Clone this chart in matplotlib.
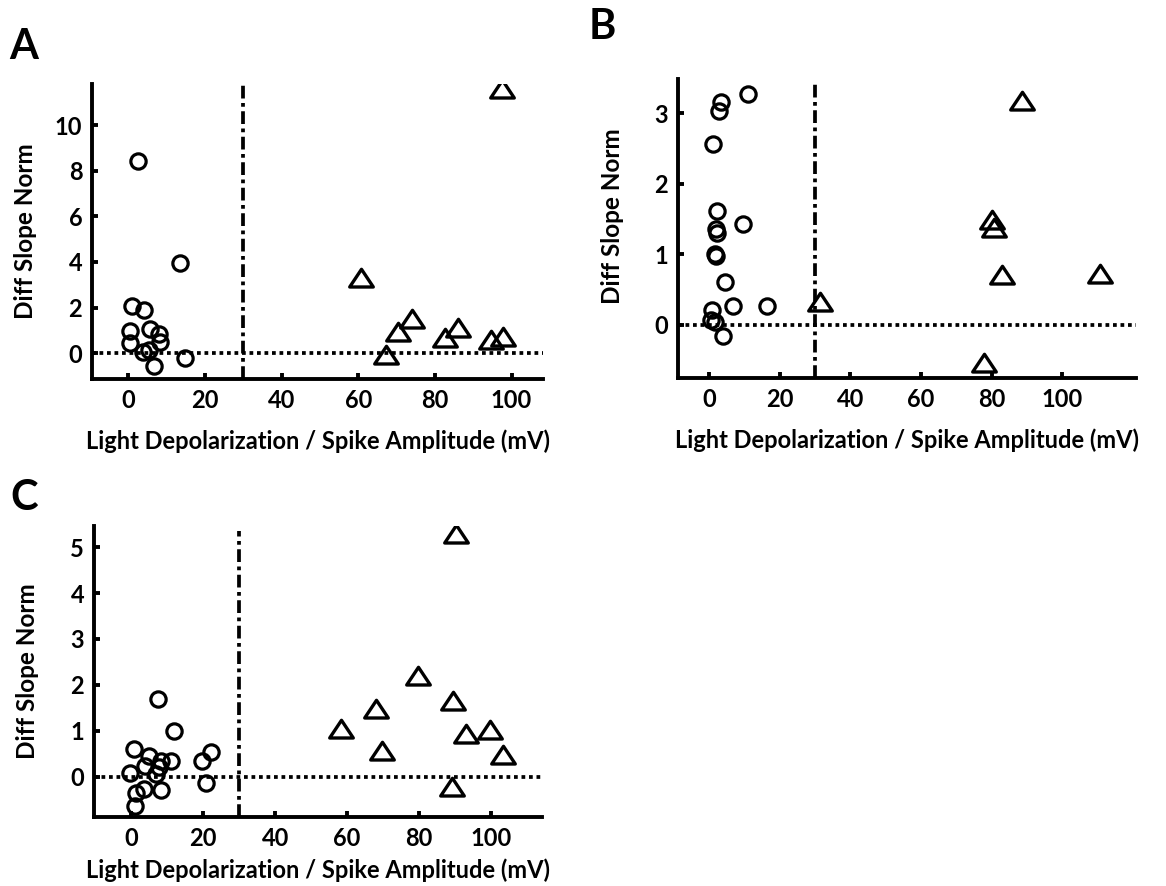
"""Diff slope norm vs light depolarization / spike amplitude, panels A-C."""

import matplotlib

matplotlib.use("Agg")

import matplotlib.pyplot as plt  # noqa: E402
from matplotlib.path import Path  # noqa: E402

plt.rcParams["font.family"] = ["Lato", "DejaVu Sans"]

W, H = 1166, 886

XTICKS = [0, 20, 40, 60, 80, 100]
THRESHOLD = 30
XLABEL = "Light Depolarization / Spike Amplitude (mV)"
YLABEL = "Diff Slope Norm"

# panel A
a_circle_x = [2.6, 13.5, 1.0, 4.2, 0.5, 5.6, 8.0, 8.3, 0.3, 3.8, 5.5, 6.6, 14.7]
a_circle_y = [8.43, 3.95, 2.05, 1.9, 0.97, 1.05, 0.85, 0.5, 0.45, 0.07, 0.15, -0.55, -0.2]
a_tri_x = [97.4, 60.7, 67.3, 70.4, 74.1, 82.6, 86.1, 94.6, 97.8]
a_tri_y = [11.6, 3.29, -0.07, 0.95, 1.49, 0.66, 1.10, 0.59, 0.73]
a_yticks = [0, 2, 4, 6, 8, 10]

# panel B
b_circle_x = [11.0, 3.5, 3.0, 1.2, 2.2, 9.7, 2.0, 2.3, 1.9, 2.1, 4.5, 6.8, 16.5, 1.0, 0.5, 1.8, 4.0]
b_circle_y = [3.28, 3.17, 3.04, 2.56, 1.62, 1.43, 1.36, 1.30, 1.0, 0.98, 0.60, 0.27, 0.26, 0.20, 0.06, 0.04, -0.17]
b_tri_x = [88.6, 80.0, 80.6, 83.0, 110.7, 77.7, 31.4]
b_tri_y = [3.18, 1.49, 1.37, 0.70, 0.72, -0.54, 0.32]
b_yticks = [0, 1, 2, 3]

# panel C
c_circle_x = [7.5, 11.8, 0.7, 4.9, 8.4, 11.1, 4.0, 7.8, -0.4, 6.8, 22.1, 19.7, 20.8, 1.3, 3.5, 8.4, 1.1]
c_circle_y = [1.70, 1.0, 0.61, 0.45, 0.34, 0.35, 0.24, 0.22, 0.08, 0.05, 0.53, 0.35, -0.13, -0.35, -0.26, -0.30, -0.65]
c_tri_x = [90.3, 79.6, 89.5, 67.9, 58.4, 99.6, 93.0, 69.6, 103.4, 89.0]
c_tri_y = [5.28, 2.20, 1.65, 1.47, 1.04, 1.01, 0.93, 0.55, 0.46, -0.23]
c_yticks = [0, 1, 2, 3, 4, 5]

# flat open triangle, a bit wider than tall
TRIANGLE = Path([(-1, -0.72), (1, -0.72), (0, 0.78), (-1, -0.72)],
                [Path.MOVETO, Path.LINETO, Path.LINETO, Path.CLOSEPOLY])


def add_axes_px(fig, left, top, right, bottom):
    return fig.add_axes([left / W, 1 - bottom / H, (right - left) / W, (bottom - top) / H])


def draw_panel(ax, box, cx, cy, tx, ty, yticks, xlim, ylim, vline_top,
               xlabel_off=62, ylabel_pos=0.5):
    left, top, right, bottom = box
    ax.set_xlim(*xlim)
    ax.set_ylim(*ylim)
    ax.axhline(0, color="black", lw=2.7, ls=(0, (1, 1)), zorder=1)
    ax.axvline(THRESHOLD, ymax=vline_top, color="black", lw=2.7,
               ls=(0, (3.4, 1.2, 1.0, 1.2)), zorder=1)
    ax.plot(cx, cy, ls="none", marker="o", ms=11, mfc="none", mec="black", mew=2.3, zorder=3)
    ax.plot(tx, ty, ls="none", marker=TRIANGLE, ms=17, mfc="none", mec="black", mew=2.4,
            zorder=3)

    for side in ("top", "right"):
        ax.spines[side].set_visible(False)
    for side in ("left", "bottom"):
        ax.spines[side].set_linewidth(2.8)

    ax.set_xticks(XTICKS)
    ax.set_yticks(yticks)
    ax.tick_params(direction="in", length=4, width=2.8, labelsize=17, pad=7)
    for label in ax.get_xticklabels() + ax.get_yticklabels():
        label.set_fontweight("bold")

    ax.set_xlabel(XLABEL, fontsize=17, fontweight="bold")
    ax.set_ylabel(YLABEL, fontsize=17.5, fontweight="bold")
    ax.xaxis.set_label_coords(0.5, -xlabel_off / (bottom - top))
    ax.xaxis.label.set_va("center")
    ax.yaxis.set_label_coords(-66 / (right - left), ylabel_pos)
    ax.yaxis.label.set_va("center")


fig = plt.figure(figsize=(W / 100, H / 100), dpi=100)

box_a = (92, 84, 543, 379)
ax_a = add_axes_px(fig, *box_a)
draw_panel(ax_a, box_a, a_circle_x, a_circle_y, a_tri_x, a_tri_y, a_yticks,
           (-9.5, 108.2), (-1.13, 11.8), 1.0)

box_b = (678, 79, 1136, 378)
ax_b = add_axes_px(fig, *box_b)
draw_panel(ax_b, box_b, b_circle_x, b_circle_y, b_tri_x, b_tri_y, b_yticks,
           (-8.7, 120.8), (-0.76, 3.49), 0.986, ylabel_pos=0.54)

box_c = (94, 526, 542, 817)
ax_c = add_axes_px(fig, *box_c)
draw_panel(ax_c, box_c, c_circle_x, c_circle_y, c_tri_x, c_tri_y, c_yticks,
           (-10.3, 114.1), (-0.88, 5.46), 0.983, xlabel_off=53)

for letter, x, y in [("A", 24, 47), ("B", 602, 27), ("C", 24, 498)]:
    fig.text(x / W, 1 - y / H, letter, fontsize=30, fontweight="bold",
             ha="center", va="center")

fig.savefig("out.png", dpi=100)
